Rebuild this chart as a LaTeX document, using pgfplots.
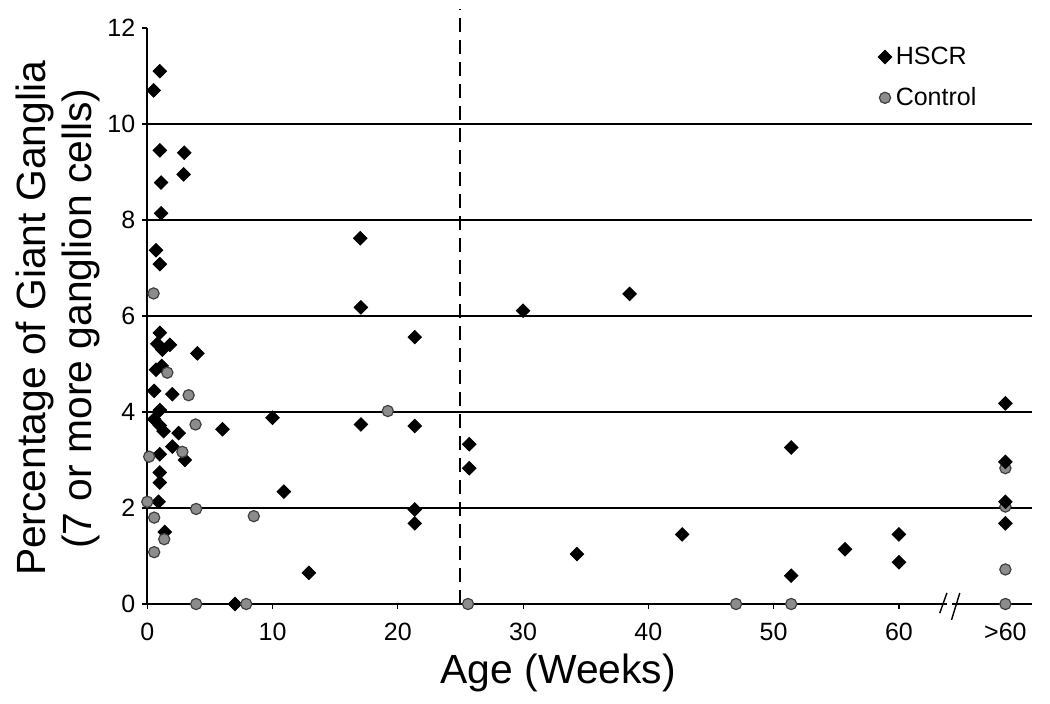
\documentclass[border=0pt]{standalone}
\usepackage{fontspec}
\setmainfont{Liberation Sans}
\usepackage{pgfplots}
\pgfplotsset{compat=1.18}

\pgfplotstableread{
x y
1.0 11.1
0.5 10.7
1.0 9.45
2.95 9.4
2.9 8.95
1.1 8.78
1.1 8.14
0.7 7.37
1.0 7.08
1.0 5.65
0.8 5.42
1.2 5.3
1.8 5.4
4.0 5.22
1.15 4.96
0.7 4.88
0.55 4.44
2.0 4.37
1.0 4.04
0.55 3.85
1.0 3.72
1.3 3.6
2.5 3.56
10.0 3.88
6.0 3.64
2.0 3.28
1.0 3.12
3.0 3.0
1.0 2.74
1.0 2.53
10.9 2.34
0.9 2.13
1.4 1.5
12.9 0.65
7.0 0
17.0 7.62
17.05 6.18
30.0 6.11
21.35 5.56
17.05 3.74
21.35 3.71
25.7 3.33
25.7 2.83
21.35 1.97
21.35 1.68
38.5 6.46
51.4 3.26
42.7 1.45
34.3 1.04
55.7 1.14
51.4 0.59
60.0 1.45
60.0 0.87
}\hscr

\pgfplotstableread{
x y
68.5 4.18
68.5 2.96
68.5 2.13
68.5 1.68
}\hscrold

\pgfplotstableread{
x y
0.5 6.47
1.6 4.82
3.3 4.35
3.85 3.74
2.8 3.17
0.15 3.07
0.0 2.13
3.9 1.98
0.55 1.80
8.5 1.83
1.35 1.35
0.55 1.08
3.9 0
7.9 0
19.2 4.02
25.6 0
47.0 0
51.4 0
68.5 2.83
68.5 2.03
68.5 0.72
68.5 0
}\control

\begin{document}
\begin{tikzpicture}
\tikzset{
  hscrmark/.style={only marks, mark=square*, mark size=2.4pt, mark options={rotate=45, fill=black, draw=black}},
  ctrlmark/.style={only marks, mark=*, mark size=2.8pt, mark options={fill=black!45, draw=black!75, line width=0.6pt}},
}
\begin{axis}[
  width=442.2pt, height=288pt, scale only axis,
  xmin=0, xmax=70.6, ymin=0, ymax=12,
  clip=false,
  axis x line=bottom, axis y line=left,
  axis line style={-, black, line width=1pt},
  tick align=outside,
  major tick length=2.5pt,
  tick style={black, line width=0.6pt},
  xtick={0,10,20,30,40,50,60,68.5},
  xticklabels={0,10,20,30,40,50,60,>60},
  ytick={0,2,4,6,8,10,12},
  yticklabels={0,2,4,6,8,10,12},
  extra y ticks={2,4,6,8,10},
  extra y tick labels={},
  extra y tick style={ymajorgrids=true, major grid style={black, line width=0.8pt}},
  ticklabel style={font=\fontsize{12.5}{14}\selectfont},
  xticklabel style={yshift=-3.5pt},
  xlabel={Age (Weeks)},
  xlabel style={at={(rel axis cs:0.4647,-0.138)}, anchor=base, font=\fontsize{20.4}{23}\selectfont},
  ylabel={Percentage of Giant Ganglia\\(7 or more ganglion cells)},
  ylabel style={at={(rel axis cs:-0.101,0.4957)}, anchor=center, align=center, font=\fontsize{20.4}{23}\selectfont},
  legend style={at={(rel axis cs:0.826,0.975)}, anchor=north west, draw=none, fill=none,
    font=\fontsize{12.5}{15}\selectfont, row sep=6pt, inner sep=0pt},
  legend cell align=left,
  legend image code/.code={\draw[mark repeat=2,mark phase=2,#1] plot coordinates {(0cm,0cm) (0.1cm,0cm) (0.2cm,0cm)};},
]
\addplot[hscrmark] table[x=x,y=y] {\hscr};
\addlegendentry{HSCR}
\addplot[ctrlmark] table[x=x,y=y] {\control};
\addlegendentry{Control}
\addplot[hscrmark, forget plot] table[x=x,y=y] {\hscrold};

\draw[black, line width=1pt, dash pattern=on 7pt off 4pt] (axis cs:25,0) -- (axis cs:25,12.4);
\fill[white] (axis cs:63.85,-0.1) rectangle (axis cs:64.2,0.1);
\draw[black, line width=0.7pt] (axis cs:63.26,-0.19) -- (axis cs:63.83,0.23);
\draw[black, line width=0.7pt] (axis cs:64.2,-0.33) -- (axis cs:64.86,0.23);
\end{axis}
\pgfresetboundingbox
\path (-73.65pt,-49.5pt) rectangle (451.35pt,302pt);
\end{tikzpicture}
\end{document}
